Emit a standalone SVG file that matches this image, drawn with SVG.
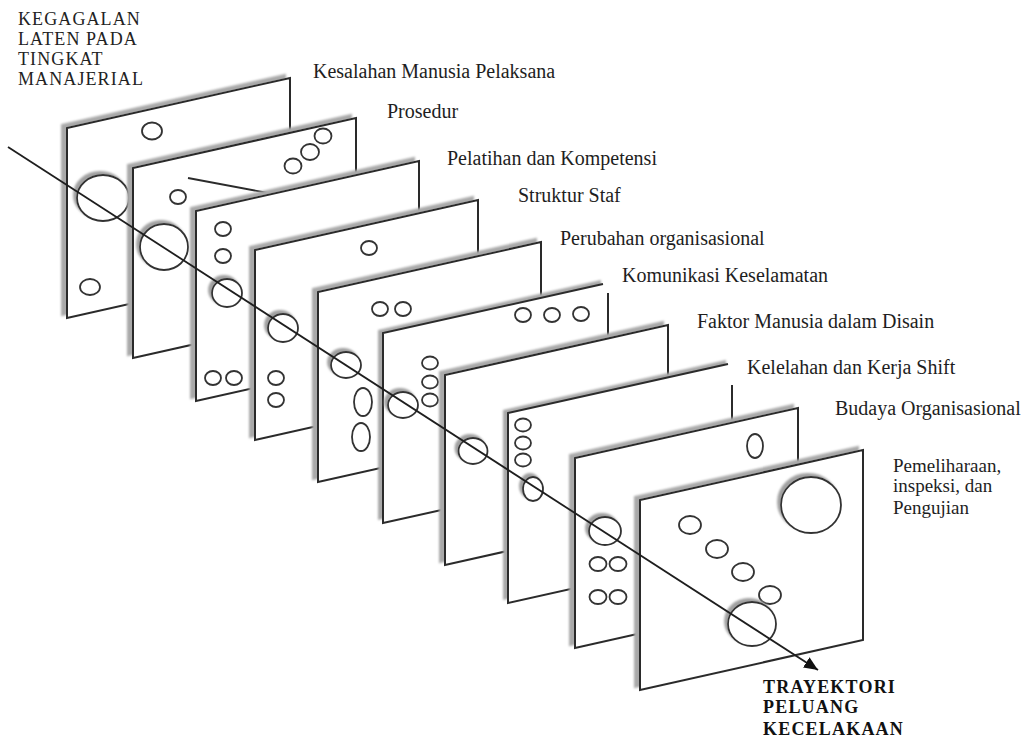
<svg xmlns="http://www.w3.org/2000/svg" xmlns:xlink="http://www.w3.org/1999/xlink" width="1022" height="740" viewBox="0 0 1022 740">
<style>
.pl{fill:#fff;stroke:#2b2b2b;stroke-width:2;filter:url(#ps)}
.pf{fill:#fff;stroke:none;filter:url(#ps)}
.ol{fill:none;stroke:#2b2b2b;stroke-width:2}
.h{fill:#fff;stroke:#333;stroke-width:1.8}
.hs{filter:url(#hs)}
.ln{fill:none;stroke:#2b2b2b;stroke-width:1.8}
.lbl{font-family:"Liberation Serif","Times New Roman",serif;font-size:20px;fill:#1e1e1e}
.t{font-size:18px;letter-spacing:1.1px;fill:#222}
.b{font-weight:bold;fill:#111;font-size:18px;letter-spacing:1.2px}
</style>
<defs>
<path id="slab" d="M0,0 L223,-50 L223,140 L0,190 Z"/>
<filter id="ps" x="-10%" y="-10%" width="120%" height="120%">
<feFlood flood-color="#a9a9a9"/>
<feComposite in2="SourceAlpha" operator="in"/>
<feOffset dx="-5" dy="-3"/>
<feGaussianBlur stdDeviation="0.9"/>
<feMerge><feMergeNode/><feMergeNode in="SourceGraphic"/></feMerge>
</filter>
<filter id="hs" x="-30%" y="-30%" width="160%" height="160%">
<feFlood flood-color="#a0a0a0"/>
<feComposite in2="SourceAlpha" operator="in"/>
<feOffset dx="-3" dy="-3"/>
<feGaussianBlur stdDeviation="1"/>
<feMerge><feMergeNode/><feMergeNode in="SourceGraphic"/></feMerge>
</filter>
<marker id="arr" markerUnits="userSpaceOnUse" markerWidth="14" markerHeight="12" refX="14" refY="6" orient="auto">
<path d="M0,0 L14,6 L0,12 Z" fill="#111"/>
</marker>
</defs>

<g id="slice1">
<use xlink:href="#slab" x="67" y="128" class="pl"/>
<ellipse class="h" cx="152" cy="131" rx="10" ry="8.5"/>
<ellipse class="h hs" cx="103" cy="198" rx="26" ry="23"/>
<ellipse class="h" cx="90" cy="287" rx="10" ry="8"/>
</g>
<g id="slice2">
<use xlink:href="#slab" x="133" y="168" class="pl"/>
<ellipse class="h" cx="323" cy="136" rx="8.5" ry="7.5"/>
<ellipse class="h" cx="310" cy="152" rx="9" ry="8"/>
<ellipse class="h" cx="293" cy="166" rx="8.5" ry="7.5"/>
<ellipse class="h" cx="178" cy="197" rx="8" ry="7"/>
<ellipse class="h hs" cx="164" cy="247" rx="24" ry="23"/>
<line class="ln" x1="188" y1="178" x2="268" y2="193"/>
</g>
<g id="slice3">
<use xlink:href="#slab" x="196" y="211" class="pl"/>
<ellipse class="h" cx="223" cy="229" rx="8" ry="7"/>
<ellipse class="h" cx="223" cy="256" rx="8" ry="7"/>
<ellipse class="h hs" cx="227" cy="293" rx="15" ry="14"/>
<ellipse class="h" cx="213" cy="378" rx="8" ry="7"/>
<ellipse class="h" cx="234" cy="378" rx="8" ry="7"/>
</g>
<g id="slice4">
<use xlink:href="#slab" x="255" y="250" class="pl"/>
<ellipse class="h" cx="369" cy="248" rx="8" ry="7"/>
<ellipse class="h hs" cx="283" cy="328" rx="15" ry="14"/>
<ellipse class="h" cx="276" cy="378" rx="8" ry="7"/>
<ellipse class="h" cx="276" cy="400" rx="8" ry="7"/>
</g>
<g id="slice5">
<use xlink:href="#slab" x="318" y="292" class="pl"/>
<ellipse class="h" cx="380" cy="309" rx="8" ry="7"/>
<ellipse class="h" cx="403" cy="309" rx="8" ry="7"/>
<ellipse class="h hs" cx="346" cy="365" rx="15" ry="13"/>
<ellipse class="h" cx="363" cy="402" rx="9" ry="14"/>
<ellipse class="h" cx="361" cy="437" rx="9" ry="14"/>
</g>
<g id="slice6">
<use xlink:href="#slab" x="383" y="333" class="pf"/>
<path class="ol" d="M603,284 L383,333 L383,523 L608,473 L608,293"/>
<ellipse class="h" cx="523" cy="315" rx="8" ry="7"/>
<ellipse class="h" cx="552" cy="315" rx="8" ry="7"/>
<ellipse class="h" cx="581" cy="314" rx="8" ry="7"/>
<ellipse class="h" cx="430" cy="363" rx="8" ry="6.5"/>
<ellipse class="h" cx="430" cy="382" rx="8" ry="6.5"/>
<ellipse class="h" cx="430" cy="400" rx="8" ry="6.5"/>
<ellipse class="h hs" cx="403" cy="405" rx="15" ry="13"/>
</g>
<g id="slice7">
<use xlink:href="#slab" x="445" y="375" class="pl"/>
<ellipse class="h hs" cx="473" cy="451" rx="14.5" ry="13"/>
</g>
<g id="slice8">
<use xlink:href="#slab" x="508" y="413" class="pf"/>
<path class="ol" d="M728,364 L508,413 L508,603 L732,553 L732,385"/>
<ellipse class="h" cx="523" cy="425" rx="8" ry="6.5"/>
<ellipse class="h" cx="523" cy="443" rx="8" ry="6.5"/>
<ellipse class="h" cx="523" cy="460" rx="8" ry="6.5"/>
<ellipse class="h hs" cx="533" cy="489" rx="10" ry="12"/>
</g>
<g id="slice9">
<use xlink:href="#slab" x="575" y="458" class="pl"/>
<ellipse class="h" cx="755" cy="446" rx="8" ry="12"/>
<ellipse class="h hs" cx="605" cy="531" rx="16" ry="14"/>
<ellipse class="h" cx="598" cy="564" rx="8.5" ry="7"/>
<ellipse class="h" cx="618" cy="564" rx="8.5" ry="7"/>
<ellipse class="h" cx="598" cy="597" rx="8.5" ry="7"/>
<ellipse class="h" cx="618" cy="597" rx="8.5" ry="7"/>
</g>
<g id="slice10">
<use xlink:href="#slab" x="640" y="500" class="pl"/>
<ellipse class="h hs" cx="811" cy="505" rx="30" ry="28"/>
<ellipse class="h" cx="690" cy="525" rx="11" ry="9"/>
<ellipse class="h" cx="717" cy="549" rx="11" ry="9"/>
<ellipse class="h" cx="743" cy="572" rx="11" ry="9"/>
<ellipse class="h" cx="770" cy="595" rx="11" ry="9"/>
<ellipse class="h hs" cx="752" cy="624" rx="24" ry="22"/>
</g>

<g id="connectors">
<line x1="8" y1="147" x2="818" y2="670" stroke="#1e1e1e" stroke-width="1.8" marker-end="url(#arr)"/>
</g>

<g id="labels" class="lbl">
<text x="18" y="25" class="t">KEGAGALAN</text>
<text x="18" y="45" class="t">LATEN PADA</text>
<text x="18" y="65" class="t">TINGKAT</text>
<text x="18" y="85" class="t">MANAJERIAL</text>
<text x="313" y="78">Kesalahan Manusia Pelaksana</text>
<text x="387" y="118">Prosedur</text>
<text x="447" y="165">Pelatihan dan Kompetensi</text>
<text x="518" y="202">Struktur Staf</text>
<text x="560" y="245">Perubahan organisasional</text>
<text x="622" y="282">Komunikasi Keselamatan</text>
<text x="697" y="328">Faktor Manusia dalam Disain</text>
<text x="747" y="374">Kelelahan dan Kerja Shift</text>
<text x="835" y="415">Budaya Organisasional</text>
<text x="893" y="472" style="font-size:19px">Pemeliharaan,</text>
<text x="893" y="492" style="font-size:19px">inspeksi, dan</text>
<text x="893" y="514" style="font-size:19px">Pengujian</text>
<text x="763" y="693" class="b">TRAYEKTORI</text>
<text x="763" y="713" class="b">PELUANG</text>
<text x="763" y="735" class="b">KECELAKAAN</text>
</g>
</svg>
